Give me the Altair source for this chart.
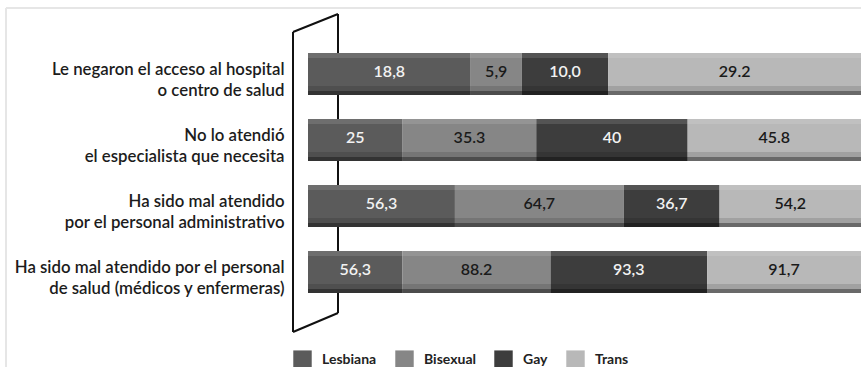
import altair as alt
import pandas as pd

# Survey items (line breaks marked with "|")
categories = [
    "Le negaron el acceso al hospital|o centro de salud",
    "No lo atendió|el especialista que necesita",
    "Ha sido mal atendido|por el personal administrativo",
    "Ha sido mal atendido por el personal|de salud (médicos y enfermeras)",
]
series = ["Lesbiana", "Bisexual", "Gay", "Trans"]

lesbiana = [18.8, 25.0, 56.3, 56.3]
bisexual = [5.9, 35.3, 64.7, 88.2]
gay = [10.0, 40.0, 36.7, 93.3]
trans = [29.2, 45.8, 54.2, 91.7]

lesbiana_lbl = ["18,8", "25", "56,3", "56,3"]
bisexual_lbl = ["5,9", "35.3", "64,7", "88.2"]
gay_lbl = ["10,0", "40", "36,7", "93,3"]
trans_lbl = ["29.2", "45.8", "54,2", "91,7"]

colors = ["#5b5b5b", "#868686", "#3d3d3d", "#b8b8b8"]
text_colors = ["#f2f2f2", "#1a1a1a", "#f2f2f2", "#1a1a1a"]
FONT = "Lato"
W, H = 553, 264

rows = []
for j, (name, vals, lbls) in enumerate(zip(
        series,
        [lesbiana, bisexual, gay, trans],
        [lesbiana_lbl, bisexual_lbl, gay_lbl, trans_lbl])):
    for i, cat in enumerate(categories):
        rows.append({"cat": cat, "serie": name, "order": j,
                     "value": vals[i], "label": lbls[i]})
df = pd.DataFrame(rows)

y_enc = alt.Y(
    "cat:N", sort=categories, title=None,
    scale=alt.Scale(paddingInner=0.36, paddingOuter=0.18),
    axis=alt.Axis(domain=False, ticks=False, labelPadding=24, labelOffset=-4,
                  labelFontSize=16.8, labelFont=FONT, labelFontWeight=600,
                  labelColor="#1c1c1c",
                  labelExpr="split(datum.label, '|')", labelLineHeight=21,
                  labelLimit=400, labelAlign="right", labelBaseline="middle"),
)

stacked = alt.Chart(df).transform_stack(
    stack="value", groupby=["cat"], as_=["x0", "x1"],
    sort=[alt.SortField("order", order="ascending")], offset="normalize",
)

bars = stacked.mark_bar().encode(
    x=alt.X("x0:Q", scale=alt.Scale(domain=[0, 1]), axis=None),
    x2="x1:Q",
    y=y_enc,
    color=alt.Color(
        "serie:N",
        scale=alt.Scale(domain=series, range=colors),
        legend=alt.Legend(
            title=None, orient="none", legendX=-15, legendY=309,
            direction="horizontal", symbolType="square", symbolSize=340,
            symbolStrokeWidth=0, labelFont=FONT, labelFontSize=14,
            labelFontWeight="bold", labelColor="#222222", labelOffset=10,
            columnPadding=18,
        ),
    ),
)

# Thin strips along the top and bottom of each bar for a raised look
strip_src = alt.Chart(pd.DataFrame({"cat": categories}))


def strip(size, offset, color, opacity):
    return strip_src.mark_bar(size=size, yOffset=offset, color=color,
                              opacity=opacity).encode(
        x=alt.datum(0), x2=alt.datum(1), y=alt.Y("cat:N", sort=categories))


shading = alt.layer(
    strip(9, 16.5, "#000000", 0.12),
    strip(4, 19, "#000000", 0.35),
    strip(5, -18.5, "#ffffff", 0.12),
)

texts = stacked.transform_calculate(
    mid="(datum.x0 + datum.x1) / 2"
).mark_text(font=FONT, fontSize=16, fontWeight=600, baseline="middle",
            dy=-2).encode(
    x="mid:Q",
    y=alt.Y("cat:N", sort=categories),
    text="label:N",
    color=alt.Color("serie:N", scale=alt.Scale(domain=series, range=text_colors),
                    legend=None),
)

one = pd.DataFrame({"k": [0]})

# Upright panel behind the bars
wall_style = dict(color="#111111", strokeWidth=2)
wall = alt.layer(
    alt.Chart(one).mark_rule(**wall_style).encode(
        x=alt.value(-15), x2=alt.value(-15), y=alt.value(-9), y2=alt.value(291)),
    alt.Chart(one).mark_rule(**wall_style).encode(
        x=alt.value(30), x2=alt.value(30), y=alt.value(-27), y2=alt.value(272)),
    alt.Chart(one).mark_rule(**wall_style).encode(
        x=alt.value(-15), x2=alt.value(30), y=alt.value(-9), y2=alt.value(-27)),
    alt.Chart(one).mark_rule(**wall_style).encode(
        x=alt.value(-15), x2=alt.value(30), y=alt.value(291), y2=alt.value(272)),
)

# Light outer frame
frame_style = dict(color="#e6e6e6", strokeWidth=2)
frame = alt.layer(
    alt.Chart(one).mark_rule(**frame_style).encode(
        x=alt.value(-302), x2=alt.value(W), y=alt.value(-33)),
    alt.Chart(one).mark_rule(**frame_style).encode(
        x=alt.value(-302), y=alt.value(-33), y2=alt.value(326)),
)

chart = alt.layer(frame, wall, bars, shading, texts).resolve_scale(
    color="independent"
).properties(
    width=W, height=H, autosize="none",
    padding={"left": 308, "top": 41, "right": 0, "bottom": 62},
    background="white",
).configure_view(stroke=None)

chart.save("out.html", embed_options={"renderer": "svg", "actions": False})
